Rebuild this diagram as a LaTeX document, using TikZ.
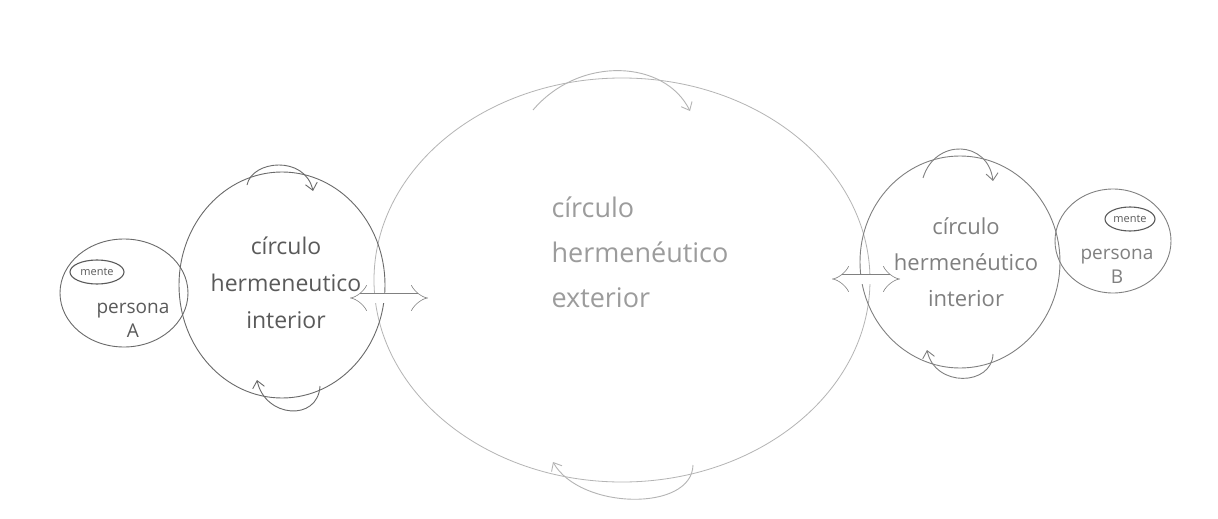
\documentclass[tikz,border=0pt]{standalone}
\usepackage{fontspec}
\setmainfont{Open Sans}
\usetikzlibrary{shapes.geometric,arrows.meta,calc}
\definecolor{penDark}{HTML}{6A6A6A}
\definecolor{penMid}{HTML}{808080}
\definecolor{penLight}{HTML}{B4B4B4}
\definecolor{inkA}{HTML}{5A5A5A}
\definecolor{inkE}{HTML}{9C9C9C}
\begin{document}
\begin{tikzpicture}[x=1pt,y=-1pt,
  blob/.style={ellipse,draw,inner sep=0pt,line width=0.9pt},
  label/.style={align=center,font=\fontsize{23}{37}\selectfont},
  cyc/.style={line width=0.9pt,-{Straight Barb[length=7pt,width=12pt]}},
  dbl/.style={double,double distance=9pt,line width=0.6pt,{Implies[length=8pt]}-{Implies[length=8pt]}}]
\useasboundingbox[fill=white] (0,0) rectangle (1218,519);
% exterior circle
\node[blob,draw=penLight,line width=0.8pt,minimum width=496pt,minimum height=404pt] (ext) at (622,280) {};
% inner circles
\node[blob,draw=penDark,minimum width=206pt,minimum height=226pt] (inA) at (282,285) {};
\node[blob,draw=penMid,minimum width=200pt,minimum height=212pt] (inB) at (960,262) {};
% persons
\node[blob,draw=penDark,minimum width=128pt,minimum height=108pt] (pA) at (124,293) {};
\node[blob,draw=penMid,minimum width=116pt,minimum height=104pt] (pB) at (1113,241) {};
% mente ovals
\node[blob,draw=inkA,line width=1.1pt,minimum width=54pt,minimum height=24pt,font=\fontsize{11}{12}\selectfont,text=inkA] (mA) at (97,272) {mente};
\node[blob,draw=inkA,line width=1.1pt,minimum width=50pt,minimum height=24pt,font=\fontsize{11}{12}\selectfont,text=inkA] (mB) at (1130,219) {mente};
% texts
\node[label,text=inkA] (tA) at (286,283) {círculo\\hermeneutico\\interior};
\node[label,text=inkE,align=left,anchor=west,font=\fontsize{27}{45}\selectfont] (tE) at (548,252) {círculo\\hermenéutico\\exterior};
\node[label,text=penMid,font=\fontsize{22}{36}\selectfont] (tB) at (966,262) {círculo\\hermenéutico\\interior};
\node[label,text=inkA,font=\fontsize{19}{24}\selectfont] (tpA) at (133,320) {persona\\A};
\node[label,text=penMid,font=\fontsize{19}{24}\selectfont] (tpB) at (1117,266) {persona\\B};
% double arrows
\coordinate (dA1) at (350,298);
\coordinate (dA2) at (428,298);
\coordinate (dB1) at (832,279);
\coordinate (dB2) at (900,279);
\draw[dbl,draw=penMid] (dA1) -- (dA2);
\draw[dbl,draw=penMid] (dB1) -- (dB2);
% cyclic arrows, left inner circle
\coordinate (a1s) at (247,185); \coordinate (a1e) at (313,191);
\draw[cyc,draw=penDark] (a1s) .. controls (252,160) and (305,155) .. (a1e);
\coordinate (a2s) at (320,386); \coordinate (a2e) at (257,380);
\draw[cyc,draw=penDark] (a2s) .. controls (318,422) and (265,418) .. (a2e);
% exterior circle
\coordinate (e1s) at (533,110); \coordinate (e1e) at (690,111);
\draw[cyc,draw=penLight] (e1s) .. controls (580,55) and (665,60) .. (e1e);
\coordinate (e2s) at (693,465); \coordinate (e2e) at (553,462);
\draw[cyc,draw=penLight] (e2s) .. controls (692,512) and (580,510) .. (e2e);
% right inner circle
\coordinate (b1s) at (923,178); \coordinate (b1e) at (993,181);
\draw[cyc,draw=penMid] (b1s) .. controls (935,138) and (988,140) .. (b1e);
\coordinate (b2s) at (993,354); \coordinate (b2e) at (927,350);
\draw[cyc,draw=penMid] (b2s) .. controls (992,386) and (935,388) .. (b2e);
\end{tikzpicture}
\end{document}
